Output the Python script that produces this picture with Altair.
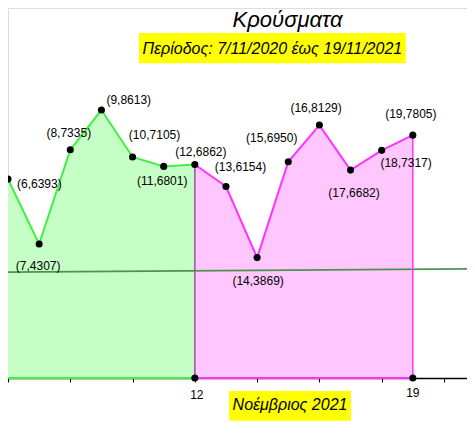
import altair as alt
import pandas as pd

# ---- data ----
green_days = [6, 7, 8, 9, 10, 11, 12]
green_cases = [6393, 4307, 7335, 8613, 7105, 6801, 6862]
pink_days = [12, 13, 14, 15, 16, 17, 18, 19]
pink_cases = [6862, 6154, 3869, 6950, 8129, 6682, 7317, 7805]
trend_days = [6, 21]
trend_cases = [3404, 3510]
tick_days = [6, 8, 10, 12, 14, 16, 18, 20]
axis_label_days = [12, 19]
title_text = "Κρούσματα"
subtitle_text = "Περίοδος: 7/11/2020 έως 19/11/2021"
xlabel_text = "Νοέμβριος 2021"

# ---- styling (not data) ----
FONT = "Liberation Sans"
GREEN_FILL = "#c6ffc6"
GREEN_LINE = "#44ee44"
PINK_FILL = "#ffc6ff"
PINK_LINE = "#ff33ff"
SHARED_EDGE = "#9c4f9c"
TREND = "#4c944c"
W, H = 459, 370
PX_PER_DAY = 31.14
label_offsets = {
    6: (9, 4.5, "left"), 7: (-1, 22.4, "center"), 8: (-1.5, -16.3, "center"),
    9: (5, -9.7, "left"), 10: (-3.7, -22.3, "left"), 11: (-1.5, 15, "center"),
    12: (6, -12.7, "center"), 13: (14.5, -19.3, "center"), 14: (1, 23.4, "center"),
    15: (-16.5, -23.6, "center"), 16: (-3.3, -16.7, "center"), 17: (3.5, 23, "center"),
    18: (24.4, 12.6, "center"), 19: (-2, -20.7, "center"),
}
tick_label_y = {12: 391, 19: 388.7}
tick_label_dx = {12: 2, 19: 0}

xs = alt.Scale(domain=[6, 6 + W / PX_PER_DAY], nice=False, zero=False)
ys = alt.Scale(domain=[0, 11892], nice=False, zero=False)
x_axis = alt.Axis(values=tick_days, labels=False, title=None, grid=False, tickSize=4,
                  tickColor="black", tickWidth=1, domainColor="black", domainWidth=1.5)

green = pd.DataFrame({"day": green_days, "cases": green_cases})
pink = pd.DataFrame({"day": pink_days, "cases": pink_cases})
trend = pd.DataFrame({"day": trend_days, "cases": trend_cases})
all_pts = pd.DataFrame({
    "day": green_days + pink_days[1:] + axis_label_days,
    "cases": green_cases + pink_cases[1:] + [0] * len(axis_label_days),
})


def X(field="day"):
    return alt.X(f"{field}:Q", scale=xs, axis=x_axis)


def Y(field="cases"):
    return alt.Y(f"{field}:Q", scale=ys, axis=None)


green_area = alt.Chart(green).mark_area(color=GREEN_FILL, opacity=1, clip=True).encode(x=X(), y=Y())
pink_area = alt.Chart(pink).mark_area(color=PINK_FILL, opacity=1, clip=True).encode(x=X(), y=Y())

trend_line = alt.Chart(trend).mark_line(color=TREND, strokeWidth=1.8, clip=True).encode(x=X(), y=Y())

green_line = alt.Chart(green).mark_line(color=GREEN_LINE, strokeWidth=2, clip=True).encode(x=X(), y=Y())
pink_line = alt.Chart(pink).mark_line(color=PINK_LINE, strokeWidth=2, clip=True).encode(x=X(), y=Y())

green_base = alt.Chart(pd.DataFrame({"day": [green_days[0]], "d2": [green_days[-1]], "z": [0]})).mark_rule(
    color=GREEN_LINE, strokeWidth=2).encode(x=X(), x2="d2:Q", y=Y("z"))
pink_base = alt.Chart(pd.DataFrame({"day": [pink_days[0]], "d2": [pink_days[-1]], "z": [0]})).mark_rule(
    color=PINK_LINE, strokeWidth=2).encode(x=X(), x2="d2:Q", y=Y("z"))
pink_right = alt.Chart(pd.DataFrame({"day": [pink_days[-1]], "c": [pink_cases[-1]], "z": [0]})).mark_rule(
    color=PINK_LINE, strokeWidth=1.5).encode(x=X(), y=Y("z"), y2="c:Q")
shared = alt.Chart(pd.DataFrame({"day": [green_days[-1]], "c": [green_cases[-1]], "z": [0]})).mark_rule(
    color=SHARED_EDGE, strokeWidth=1.5).encode(x=X(), y=Y("z"), y2="c:Q")

points = alt.Chart(all_pts).mark_circle(color="black", size=50, opacity=1).encode(x=X(), y=Y())

labels = []
for d, c in zip(green_days + pink_days[1:], green_cases + pink_cases[1:]):
    dx, dy, al = label_offsets[d]
    labels.append(
        alt.Chart(pd.DataFrame({"day": [d], "cases": [c], "t": [f"({d},{c})"]}))
        .mark_text(font=FONT, fontSize=12, color="black", align=al, baseline="middle", dx=dx, dy=dy)
        .encode(x=X(), y=Y(), text="t:N")
    )

tick_labels = []
for d in axis_label_days:
    tick_labels.append(
        alt.Chart(pd.DataFrame({"day": [d], "t": [str(d)]}))
        .mark_text(font=FONT, fontSize=12, color="black", align="center", baseline="alphabetic",
                   dx=tick_label_dx[d])
        .encode(x=X(), y=alt.value(tick_label_y[d]), text="t:N")
    )

title = alt.Chart(pd.DataFrame({"t": [title_text]})).mark_text(
    font=FONT, fontSize=22, fontStyle="italic", color="black", align="center", baseline="alphabetic"
).encode(x=alt.value(279.5), y=alt.value(19), text="t:N")

sub_box = alt.Chart(pd.DataFrame({"a": [0]})).mark_rect(color="#ffff00", opacity=1).encode(
    x=alt.value(131), x2=alt.value(397.7), y=alt.value(25), y2=alt.value(55.3))
subtitle = alt.Chart(pd.DataFrame({"t": [subtitle_text]})).mark_text(
    font=FONT, fontSize=16, fontStyle="italic", color="black", align="center", baseline="alphabetic"
).encode(x=alt.value(264.3), y=alt.value(46), text="t:N")

xl_box = alt.Chart(pd.DataFrame({"a": [0]})).mark_rect(color="#ffff00", opacity=1).encode(
    x=alt.value(221), x2=alt.value(343), y=alt.value(383), y2=alt.value(412.7))
xlabel = alt.Chart(pd.DataFrame({"t": [xlabel_text]})).mark_text(
    font=FONT, fontSize=16, fontStyle="italic", color="black", align="center", baseline="alphabetic"
).encode(x=alt.value(282), y=alt.value(402), text="t:N")

chart = alt.layer(
    green_area, pink_area, trend_line, green_base, pink_base, pink_right, shared,
    green_line, pink_line, points, *labels, *tick_labels,
    sub_box, subtitle, title, xl_box, xlabel,
).properties(
    width=W, height=H,
    autosize=alt.AutoSizeParams(type="none"),
    padding={"left": 0, "top": 0, "right": 0, "bottom": 44},
).configure_view(stroke=None).configure(background="white")

chart.save("out.html", embed_options={"renderer": "svg", "actions": False})
